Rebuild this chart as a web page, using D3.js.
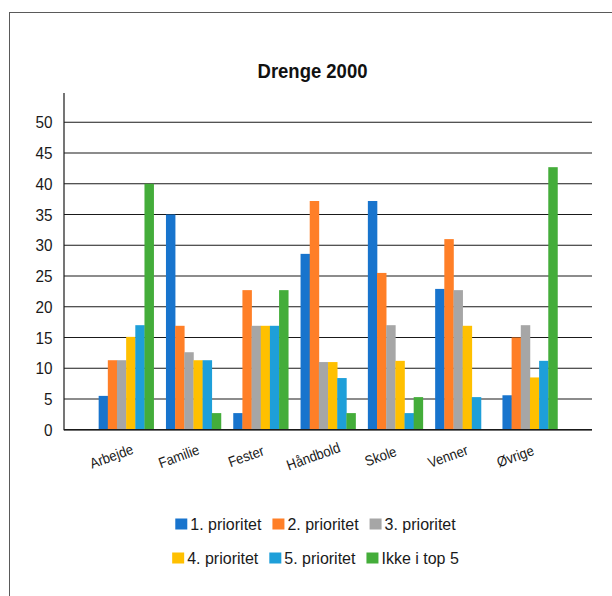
<!DOCTYPE html>
<html>
<head>
<meta charset="utf-8">
<script src="https://cdn.jsdelivr.net/npm/d3@7"></script>
<style>
  html, body { margin: 0; padding: 0; background: #fff; }
  svg { display: block; font-family: "Liberation Sans", Arial, sans-serif; }
</style>
</head>
<body>
<svg id="chart" width="612" height="596"></svg>
<script>
// Categories and series (percent of answers)
const categories = ["Arbejde", "Familie", "Fester", "Håndbold", "Skole", "Venner", "Øvrige"];
const seriesNames = ["1. prioritet", "2. prioritet", "3. prioritet", "4. prioritet", "5. prioritet", "Ikke i top 5"];
const prio1 = [5.5, 35.0, 2.7, 28.6, 37.2, 22.9, 5.6];
const prio2 = [11.3, 16.9, 22.7, 37.2, 25.5, 31.0, 15.0];
const prio3 = [11.3, 12.6, 16.9, 11.0, 17.0, 22.7, 17.0];
const prio4 = [15.1, 11.3, 16.9, 11.0, 11.2, 16.9, 8.5];
const prio5 = [17.0, 11.3, 16.9, 8.4, 2.7, 5.3, 11.2];
const notTop5 = [40.0, 2.7, 22.7, 2.7, 5.3, 0, 42.7];
const yTicks = [0, 5, 10, 15, 20, 25, 30, 35, 40, 45, 50];
const colors = ["#1874cd", "#ff7f27", "#a6a6a6", "#ffc000", "#1e9fd9", "#44ad3a"];

const seriesValues = [prio1, prio2, prio3, prio4, prio5, notTop5];

const svg = d3.select("#chart");

// outer frame
svg.append("rect")
  .attr("x", 9.5).attr("y", 12.5)
  .attr("width", 700).attr("height", 700)
  .attr("fill", "none").attr("stroke", "#5a5a5a").attr("stroke-width", 1);

const plotLeft = 64, plotRight = 592;
const y = d3.scaleLinear().domain([0, 50]).range([429.7, 122.3]);

const x0 = d3.scaleBand().domain(categories)
  .range([92.5, 563.6]).paddingInner(0.183).paddingOuter(0.0915);
const x1 = d3.scaleBand().domain(seriesNames).range([0, x0.bandwidth()]).padding(0);

// gridlines
svg.append("g").selectAll("line").data(yTicks).join("line")
  .attr("x1", plotLeft).attr("x2", plotRight)
  .attr("y1", d => y(d)).attr("y2", d => y(d))
  .attr("stroke", "#1a1a1a").attr("stroke-width", 1.1);

// bars
const groups = svg.append("g").selectAll("g").data(categories).join("g")
  .attr("transform", c => `translate(${x0(c)},0)`);
groups.selectAll("rect")
  .data((c, ci) => seriesNames.map((s, si) => ({ s, si, v: seriesValues[si][ci] })))
  .join("rect")
  .attr("x", d => x1(d.s))
  .attr("width", x1.bandwidth() + 0.3)
  .attr("y", d => y(d.v))
  .attr("height", d => y(0) - y(d.v))
  .attr("fill", d => colors[d.si]);

// y axis line
svg.append("line")
  .attr("x1", plotLeft).attr("x2", plotLeft)
  .attr("y1", 93).attr("y2", y(0) + 0.5)
  .attr("stroke", "#1a1a1a").attr("stroke-width", 1.2);
// baseline
svg.append("line")
  .attr("x1", plotLeft).attr("x2", plotRight)
  .attr("y1", y(0)).attr("y2", y(0))
  .attr("stroke", "#1a1a1a").attr("stroke-width", 1.4);

// y tick labels
svg.append("g").selectAll("g").data(yTicks).join("g")
  .attr("transform", d => `translate(52.5,${y(d)}) scale(0.9,1)`)
  .append("text")
  .attr("text-anchor", "end").attr("dy", "0.36em")
  .attr("font-size", 17).attr("fill", "#1a1a1a")
  .text(d => d);

// x category labels (slanted, slightly condensed)
svg.append("g").selectAll("g").data(categories).join("g")
  .attr("transform", c => `translate(${x0(c) + x0.bandwidth() / 2 - 13},461) rotate(-20) scale(0.9,1)`)
  .append("text")
  .attr("text-anchor", "middle")
  .attr("font-size", 14.5).attr("fill", "#1a1a1a")
  .text(c => c);

// title
svg.append("g").attr("transform", "translate(312.5,77.7) scale(0.88,1)")
  .append("text")
  .attr("text-anchor", "middle")
  .attr("font-size", 21).attr("font-weight", "bold").attr("fill", "#111")
  .text("Drenge 2000");

// legend, two centred rows of three
const legendRows = [[0, 1, 2], [3, 4, 5]];
const rowCenters = [524, 558];
const legendCenterX = 315.5;
legendRows.forEach((row, ri) => {
  const g = svg.append("g");
  let cx = 0;
  row.forEach((si, k) => {
    const item = g.append("g").attr("transform", `translate(${cx},0)`);
    item.append("rect")
      .attr("x", 0).attr("y", rowCenters[ri] - 5.5)
      .attr("width", 12).attr("height", 11)
      .attr("fill", colors[si]);
    const t = item.append("text")
      .attr("x", 15).attr("y", rowCenters[ri]).attr("dy", "0.36em")
      .attr("font-size", 16).attr("fill", "#1a1a1a")
      .text(seriesNames[si]);
    const w = t.node().getComputedTextLength();
    cx += 15 + w + (k < row.length - 1 ? 11 : 0);
  });
  g.attr("transform", `translate(${legendCenterX - cx / 2},0)`);
});
</script>
</body>
</html>
